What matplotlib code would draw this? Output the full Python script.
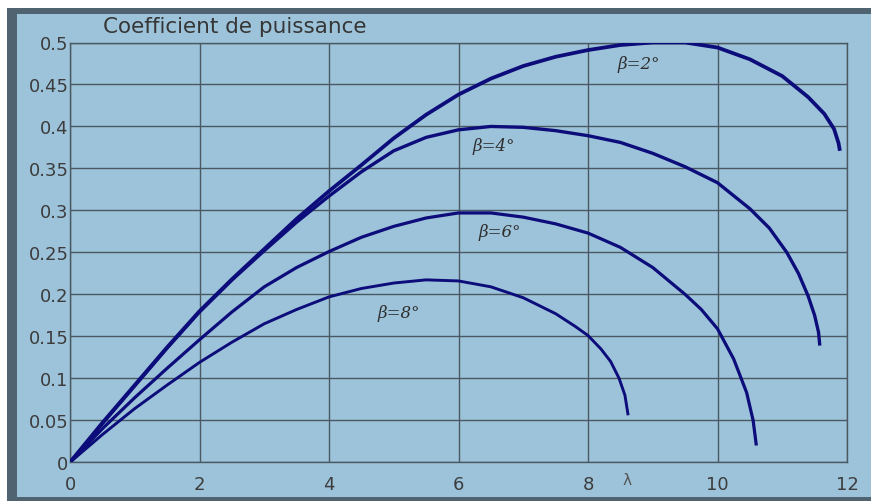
import matplotlib
matplotlib.use("Agg")
import matplotlib.pyplot as plt
from matplotlib.patches import Rectangle

# Power coefficient Cp versus tip-speed ratio lambda, for four pitch angles
lam_b2 = [0, 0.5, 1, 1.5, 2, 2.5, 3, 3.5, 4, 4.5, 5, 5.5, 6, 6.5, 7, 7.5, 8, 8.5,
          9, 9.5, 10, 10.5, 11, 11.4, 11.65, 11.8, 11.87, 11.89]
cp_b2 = [0, 0.047, 0.092, 0.137, 0.18, 0.218, 0.254, 0.29, 0.323, 0.354, 0.386,
         0.414, 0.438, 0.457, 0.472, 0.483, 0.491, 0.497, 0.5, 0.5, 0.494, 0.48,
         0.46, 0.435, 0.415, 0.397, 0.38, 0.371]

lam_b4 = [0, 0.5, 1, 1.5, 2, 2.5, 3, 3.5, 4, 4.5, 5, 5.5, 6, 6.5, 7, 7.5, 8, 8.5,
          9, 9.5, 10, 10.5, 10.8, 11.07, 11.25, 11.4, 11.5, 11.56, 11.58]
cp_b4 = [0, 0.046, 0.091, 0.136, 0.179, 0.217, 0.252, 0.286, 0.317, 0.346, 0.371,
         0.387, 0.396, 0.4, 0.399, 0.395, 0.389, 0.381, 0.368, 0.352, 0.333, 0.302,
         0.279, 0.25, 0.225, 0.198, 0.175, 0.155, 0.139]

lam_b6 = [0, 0.5, 1, 1.5, 2, 2.5, 3, 3.5, 4, 4.5, 5, 5.5, 6, 6.5, 7, 7.5, 8, 8.5,
          9, 9.5, 9.75, 10, 10.25, 10.45, 10.55, 10.6]
cp_b6 = [0, 0.04, 0.077, 0.112, 0.146, 0.179, 0.209, 0.232, 0.251, 0.268, 0.281,
         0.291, 0.297, 0.297, 0.292, 0.284, 0.273, 0.256, 0.232, 0.2, 0.182, 0.159,
         0.123, 0.083, 0.05, 0.02]

lam_b8 = [0, 0.5, 1, 1.5, 2, 2.5, 3, 3.5, 4, 4.5, 5, 5.5, 6, 6.5, 7, 7.5, 7.8, 8,
          8.2, 8.35, 8.48, 8.57, 8.62]
cp_b8 = [0, 0.033, 0.064, 0.092, 0.119, 0.143, 0.165, 0.182, 0.197, 0.207, 0.2135,
         0.2173, 0.216, 0.209, 0.196, 0.177, 0.162, 0.151, 0.135, 0.12, 0.1, 0.08,
         0.056]

curve_labels = ["β=2°", "β=4°", "β=6°", "β=8°"]
label_pos = [(8.78, 0.475), (6.55, 0.377), (6.63, 0.275), (5.08, 0.179)]

x_ticks = [0, 2, 4, 6, 8, 10, 12]
y_ticks = [0, 0.05, 0.1, 0.15, 0.2, 0.25, 0.3, 0.35, 0.4, 0.45, 0.5]
y_ticklabels = ["0", "0.05", "0.1", "0.15", "0.2", "0.25", "0.3", "0.35", "0.4",
                "0.45", "0.5"]

W, H = 871, 502
BG = "#9dc3da"
FRAME = "#4f6470"
GRID = "#4a5961"
LINE = "#0c0c7a"
TEXT = "#3c3c3c"

fig = plt.figure(figsize=(W / 100, H / 100), dpi=100, facecolor="white")

# outer dark frame and light panel, kept behind the axes
fig.patches.append(Rectangle((7 / W, 0), 1, (H - 9) / H, transform=fig.transFigure,
                             facecolor=FRAME, edgecolor="none", zorder=-10))
fig.patches.append(Rectangle((17 / W, 4 / H), 1, (H - 15 - 4) / H,
                             transform=fig.transFigure, facecolor=BG,
                             edgecolor="none", zorder=-9))

x0, x1 = 70, 847
y0, y1 = 463.3, 43.5
ax = fig.add_axes([x0 / W, (H - y0) / H, (x1 - x0) / W, (y0 - y1) / H])
ax.set_zorder(1)
ax.set_facecolor(BG)
ax.set_xlim(0, 12)
ax.set_ylim(0, 0.5)
ax.set_xticks(x_ticks)
ax.set_xticklabels([str(t) for t in x_ticks])
ax.set_yticks(y_ticks)
ax.set_yticklabels(y_ticklabels)
ax.grid(True, color=GRID, linewidth=1.0)
ax.set_axisbelow(True)
for s in ax.spines.values():
    s.set_color(GRID)
    s.set_linewidth(1.0)
ax.tick_params(length=0, labelsize=13, labelcolor=TEXT)
ax.tick_params(axis="x", pad=9)
ax.tick_params(axis="y", pad=1)

series = [(lam_b2, cp_b2, 2.7), (lam_b4, cp_b4, 2.4), (lam_b6, cp_b6, 2.3),
          (lam_b8, cp_b8, 2.1)]
for lam, cp, lw in series:
    ax.plot(lam, cp, color=LINE, linewidth=lw, solid_capstyle="butt",
            solid_joinstyle="round", zorder=3)

for txt, (lx, ly) in zip(curve_labels, label_pos):
    ax.text(lx, ly, txt, family="DejaVu Serif", style="italic", fontsize=12,
            color="#2e2e2e", ha="center", va="center", zorder=4)

ax.text(8.6, -0.021, "λ", fontsize=11, color="#555555", ha="center", va="center",
        clip_on=False)

fig.text(103 / W, 1 - 27 / H, "Coefficient de puissance", fontsize=15.5,
         color="#363636", ha="left", va="center")

fig.savefig("out.png", dpi=100, facecolor="white")
